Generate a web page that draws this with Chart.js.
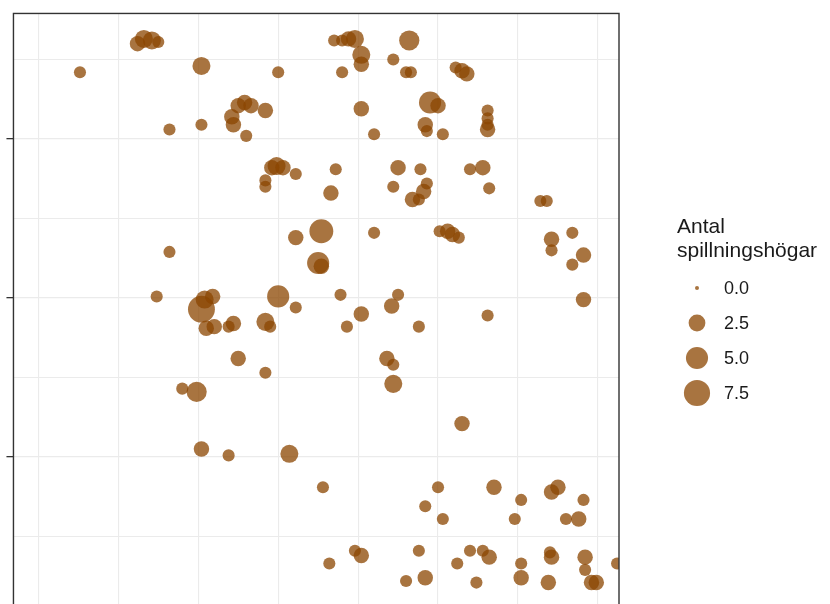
<!DOCTYPE html>
<html>
<head>
<meta charset="utf-8">
<script src="https://cdn.jsdelivr.net/npm/chart.js@4/dist/chart.umd.min.js"></script>
<style>
  html, body { margin: 0; padding: 0; background: #ffffff; overflow: hidden; }
  #wrap { width: 830px; height: 680px; }
</style>
</head>
<body>
<div id="wrap"><canvas id="c" width="830" height="680"></canvas></div>
<script>
// Survey plot positions (m) and number of dung heaps found at each spot
const xs = [
  62, 66, 71, 75, 26, 102, 150, 185, 190, 194,
  198, 202, 202, 190, 222, 232, 230, 233, 261, 265,
  268, 245, 250, 281, 281, 281, 281, 242, 243, 253,
  210, 202, 82, 102, 125, 129, 133, 142, 121, 122,
  130, 146, 149, 153, 161, 142, 142, 186, 183, 225,
  239, 222, 234, 238, 241, 243, 270, 278, 282, 314,
  318, 210, 251, 256, 259, 263, 177, 175, 177, 161,
  321, 321, 334, 341, 334, 82, 74, 102, 104, 109,
  110, 105, 119, 122, 150, 161, 142, 145, 125, 142,
  189, 202, 193, 225, 221, 238, 281, 341, 218, 222,
  222, 99, 90, 265, 102, 119, 157, 178, 250, 285,
  242, 253, 302, 298, 321, 325, 341, 330, 338, 238,
  230, 242, 262, 270, 278, 282, 274, 302, 302, 321,
  320, 319, 342, 342, 346, 349, 362, 182, 198, 202
];
const ys = [
  360, 363, 362, 361, 342, 346, 342, 362, 362, 363,
  363, 353, 347, 342, 350, 362, 342, 342, 345, 343,
  341, 323, 321, 318, 313, 309, 306, 309, 305, 303,
  303, 319, 306, 309, 321, 323, 321, 318, 314, 309,
  302, 282, 283, 282, 278, 274, 270, 281, 266, 282,
  281, 270, 262, 262, 267, 272, 281, 282, 269, 261,
  261, 241, 242, 242, 240, 238, 242, 222, 220, 238,
  237, 230, 241, 227, 221, 229, 201, 193, 199, 201,
  182, 181, 182, 184, 201, 194, 185, 182, 162, 153,
  202, 190, 182, 202, 195, 182, 189, 199, 162, 158,
  146, 141, 143, 121, 105, 101, 102, 81, 81, 81,
  69, 61, 73, 61, 78, 81, 73, 61, 61, 41,
  22, 24, 33, 41, 41, 37, 21, 33, 24, 37,
  40, 21, 37, 29, 21, 21, 33, 33, 41, 38
];
const heaps = [
  2, 3, 3, 1, 1, 3, 1, 1, 1, 2,
  3, 3, 2, 1, 1, 4, 1, 1, 1, 2,
  2, 5, 2, 1, 1, 1, 2, 2, 1, 1,
  1, 2, 1, 1, 2, 2, 2, 2, 2, 2,
  1, 2, 3, 2, 1, 1, 1, 1, 2, 2,
  1, 1, 2, 1, 2, 1, 1, 2, 1, 1,
  1, 1, 1, 2, 2, 1, 6, 5, 2, 2,
  2, 1, 1, 2, 1, 1, 1, 8, 3, 2,
  2, 2, 1, 2, 5, 1, 3, 1, 2, 1,
  1, 2, 1, 1, 2, 1, 1, 2, 2, 1,
  3, 4, 1, 2, 2, 1, 3, 1, 1, 2,
  1, 1, 1, 1, 2, 2, 1, 1, 2, 1,
  1, 2, 1, 1, 1, 2, 1, 1, 2, 2,
  1, 2, 2, 1, 2, 2, 1, 1, 1, 2
];

// Grid positions and size-legend breaks
const xGrid = [0, 50, 100, 150, 200, 250, 300, 350];
const yGrid = [0, 50, 100, 150, 200, 250, 300, 350];
const yMajor = [100, 200, 300];
const legendBreaks = [0, 2.5, 5, 7.5];
const legendTitle = ['Antal', 'spillningshögar'];

const FILL = 'rgba(139,69,0,0.75)';
const FONT = '"Liberation Sans", Arial, sans-serif';

// Bubble radius grows with the square root of the count (area scale)
function sizeFor(v) { return 2 + 4.05 * Math.sqrt(v); }

const points = xs.map((x, i) => ({ x: x, y: ys[i], r: sizeFor(heaps[i]) }));

// Panel outline drawn over the points
const panelBorder = {
  id: 'panelBorder',
  afterDatasetsDraw(chart) {
    const a = chart.chartArea, ctx = chart.ctx;
    ctx.save();
    ctx.strokeStyle = '#333333';
    ctx.lineWidth = 1.4;
    ctx.strokeRect(a.left, a.top, a.right - a.left, a.bottom - a.top);
    ctx.restore();
  }
};

// Size legend on the right
const sizeLegend = {
  id: 'sizeLegend',
  afterDraw(chart) {
    const ctx = chart.ctx;
    ctx.save();
    ctx.fillStyle = '#1a1a1a';
    ctx.font = '21px ' + FONT;
    ctx.textBaseline = 'alphabetic';
    ctx.textAlign = 'left';
    ctx.fillText(legendTitle[0], 677, 233);
    ctx.fillText(legendTitle[1], 677, 257);
    legendBreaks.forEach((v, i) => {
      const cy = 288 + i * 35;
      ctx.beginPath();
      ctx.arc(697, cy, sizeFor(v), 0, Math.PI * 2);
      ctx.fillStyle = FILL;
      ctx.fill();
      ctx.fillStyle = '#1a1a1a';
      ctx.font = '18px ' + FONT;
      ctx.textBaseline = 'middle';
      ctx.fillText(v.toFixed(1), 724, cy + 1);
    });
    ctx.restore();
  }
};

new Chart(document.getElementById('c'), {
  type: 'bubble',
  data: {
    datasets: [{
      data: points,
      backgroundColor: FILL,
      borderWidth: 0,
      hoverRadius: 0
    }]
  },
  options: {
    responsive: false,
    animation: false,
    events: [],
    layout: { padding: { left: 0, top: 11, right: 211, bottom: 20 } },
    plugins: { legend: { display: false }, tooltip: { enabled: false } },
    scales: {
      x: {
        type: 'linear',
        min: -15.6,
        max: 363.2,
        afterBuildTicks: s => { s.ticks = xGrid.map(v => ({ value: v })); },
        afterFit: s => { s.height = 0; },
        ticks: { display: false },
        border: { display: false },
        grid: { color: '#EBEBEB', lineWidth: 1.1, drawTicks: false }
      },
      y: {
        type: 'linear',
        min: -27.7,
        max: 379.0,
        afterBuildTicks: s => { s.ticks = yGrid.map(v => ({ value: v })); },
        afterFit: s => { s.width = 12; },
        ticks: { display: false },
        border: { display: false },
        grid: {
          color: '#EBEBEB',
          lineWidth: c => (c.tick && yMajor.includes(c.tick.value)) ? 1.3 : 1.0,
          drawTicks: true,
          tickLength: 7,
          tickWidth: 1.3,
          tickColor: c => (c.tick && yMajor.includes(c.tick.value)) ? '#333333' : 'rgba(0,0,0,0)'
        }
      }
    }
  },
  plugins: [panelBorder, sizeLegend]
});
</script>
</body>
</html>
